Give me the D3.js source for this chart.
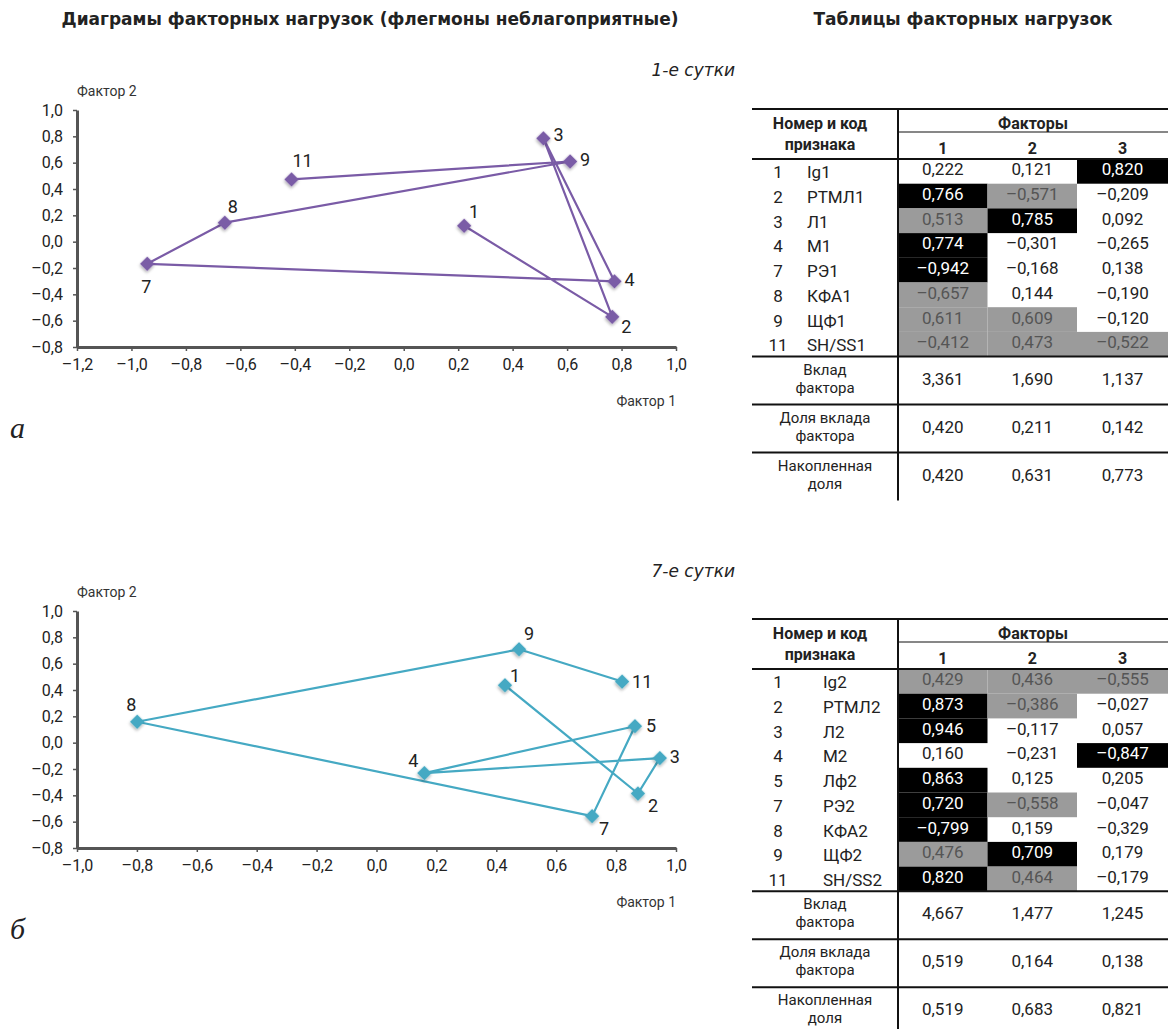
<!DOCTYPE html>
<html>
<head>
<meta charset="utf-8">
<script src="https://cdn.jsdelivr.net/npm/d3@7"></script>
<style>
  body { margin: 0; background: #fff; }
  text { font-family: Roboto, "Noto Sans", sans-serif; }
</style>
</head>
<body>
<div id="container"></div>
<script>
var width = 1168,
    height = 1029;

// ---- data: day 1 ----
var nums1 = [1, 2, 3, 4, 7, 8, 9, 11];
var codes1 = ["Ig1", "РТМЛ1", "Л1", "М1", "РЭ1", "КФА1", "ЩФ1", "SH/SS1"];
var factor1Day1 = [0.222, 0.766, 0.513, 0.774, -0.942, -0.657, 0.611, -0.412];
var factor2Day1 = [0.121, -0.571, 0.785, -0.301, -0.168, 0.144, 0.609, 0.473];
var factor3Day1 = [0.820, -0.209, 0.092, -0.265, 0.138, -0.190, -0.120, -0.522];
var contribDay1 = [3.361, 1.690, 1.137];
var shareDay1 = [0.420, 0.211, 0.142];
var cumulDay1 = [0.420, 0.631, 0.773];

// ---- data: day 7 ----
var nums7 = [1, 2, 3, 4, 5, 7, 8, 9, 11];
var codes7 = ["Ig2", "РТМЛ2", "Л2", "М2", "Лф2", "РЭ2", "КФА2", "ЩФ2", "SH/SS2"];
var factor1Day7 = [0.429, 0.873, 0.946, 0.160, 0.863, 0.720, -0.799, 0.476, 0.820];
var factor2Day7 = [0.436, -0.386, -0.117, -0.231, 0.125, -0.558, 0.159, 0.709, 0.464];
var factor3Day7 = [-0.555, -0.027, 0.057, -0.847, 0.205, -0.047, -0.329, 0.179, -0.179];
var contribDay7 = [4.667, 1.477, 1.245];
var shareDay7 = [0.519, 0.164, 0.138];
var cumulDay7 = [0.519, 0.683, 0.821];

var summaryLabels = [["Вклад", "фактора"], ["Доля вклада", "фактора"], ["Накопленная", "доля"]];
var factorHeaders = ["1", "2", "3"];

// label offsets (dx, dy) around each marker -- layout only
var labelOffsets1 = [[10, -14], [14, 10], [10, -3], [10, -1], [-1, 23], [8, -16], [10, -1], [11, -18]];
var labelOffsets7 = [[10, -9], [15, 13], [10, -1], [-11, -12], [11, 0], [12, 13], [-6, -17], [10, -15], [10, 0]];

var loc = d3.formatLocale({decimal: ",", thousands: " ", grouping: [3], currency: ["", ""], minus: "–"});
var fmt1 = loc.format(".1f"),
    fmt3 = loc.format(".3f");

var svg = d3.select("#container")
    .append("svg")
    .attr("width", width)
    .attr("height", height);

svg.append("rect").attr("width", width).attr("height", height).attr("fill", "#fff");

var defs = svg.append("defs");
defs.append("filter")
    .attr("id", "shadow")
    .attr("x", "-50%").attr("y", "-50%").attr("width", "200%").attr("height", "200%")
    .append("feDropShadow")
    .attr("dx", 1).attr("dy", 1.5)
    .attr("stdDeviation", 1.5)
    .attr("flood-color", "#000")
    .attr("flood-opacity", 0.35);

// titles
svg.append("text")
    .attr("x", 370).attr("y", 25)
    .attr("text-anchor", "middle")
    .style("font-family", "'DejaVu Sans', sans-serif")
    .attr("font-size", 17).attr("font-weight", "bold").attr("fill", "#222")
    .text("Диаграмы факторных нагрузок (флегмоны неблагоприятные)");

svg.append("text")
    .attr("x", 963).attr("y", 25)
    .attr("text-anchor", "middle")
    .style("font-family", "'DejaVu Sans', sans-serif")
    .attr("font-size", 17).attr("font-weight", "bold").attr("fill", "#222")
    .text("Таблицы факторных нагрузок");

function drawChart(opts) {
    var g = svg.append("g");

    var x = d3.scaleLinear().domain(opts.xDomain).range([77, 676]);
    var y = d3.scaleLinear().domain([-0.8, 1.0]).range([opts.top + 237, opts.top]);

    var xAxis = d3.axisBottom(x)
        .ticks(Math.round((opts.xDomain[1] - opts.xDomain[0]) / 0.2))
        .tickFormat(fmt1)
        .tickSize(4)
        .tickSizeOuter(0)
        .tickPadding(8);

    var yAxis = d3.axisLeft(y)
        .ticks(9)
        .tickFormat(fmt1)
        .tickSize(4)
        .tickSizeOuter(0)
        .tickPadding(10);

    var gx = g.append("g")
        .attr("transform", "translate(0," + (opts.top + 237) + ")")
        .call(xAxis);
    var gy = g.append("g")
        .attr("transform", "translate(77,0)")
        .call(yAxis);

    [gx, gy].forEach(function (a) {
        a.select(".domain").attr("stroke", "#555").attr("stroke-width", 3);
        a.selectAll(".tick line").attr("stroke", "#555").attr("stroke-width", 1.5);
        a.selectAll(".tick text")
            .attr("fill", "#222")
            .attr("font-size", 16)
            .style("font-family", "Roboto, sans-serif");
    });

    // axis names
    g.append("text")
        .attr("x", 77).attr("y", opts.top - 14)
        .attr("font-size", 14).attr("fill", "#333")
        .text("Фактор 2");
    g.append("text")
        .attr("x", 676).attr("y", opts.top + 296)
        .attr("text-anchor", "end")
        .attr("font-size", 14).attr("fill", "#333")
        .text("Фактор 1");

    var pts = opts.nums.map(function (n, i) {
        return {n: n, fx: opts.fx[i], fy: opts.fy[i], off: opts.offsets[i]};
    });

    var line = d3.line()
        .x(function (d) { return x(d.fx); })
        .y(function (d) { return y(d.fy); });

    g.append("path")
        .datum(pts)
        .attr("d", line)
        .attr("fill", "none")
        .attr("stroke", opts.color)
        .attr("stroke-width", 2.2)
        .attr("stroke-linejoin", "round");

    g.selectAll(".marker")
        .data(pts)
        .enter().append("path")
        .attr("class", "marker")
        .attr("d", d3.symbol().type(d3.symbolSquare).size(105))
        .attr("transform", function (d) {
            return "translate(" + x(d.fx) + "," + y(d.fy) + ") rotate(45)";
        })
        .attr("fill", opts.color)
        .attr("filter", "url(#shadow)");

    g.selectAll(".plabel")
        .data(pts)
        .enter().append("text")
        .attr("class", "plabel")
        .attr("x", function (d) { return x(d.fx) + d.off[0]; })
        .attr("y", function (d) { return y(d.fy) + d.off[1] + 6; })
        .attr("text-anchor", function (d) { return d.off[0] >= 10 && Math.abs(d.off[1]) < 5 ? "start" : "middle"; })
        .attr("font-size", 18)
        .attr("fill", "#222")
        .text(function (d) { return d.n; });

    // period caption
    svg.append("text")
        .attr("x", 735).attr("y", opts.top - 34)
        .attr("text-anchor", "end")
        .style("font-family", "'DejaVu Sans', sans-serif")
        .attr("font-size", 17).attr("font-style", "italic").attr("fill", "#222")
        .text(opts.caption);

    // panel letter
    svg.append("text")
        .attr("x", 10).attr("y", opts.top + 328)
        .attr("font-size", 30).attr("font-style", "italic")
        .style("font-family", "'Liberation Serif', 'DejaVu Serif', serif")
        .attr("fill", "#222")
        .text(opts.letter);
}

function drawTable(opts) {
    var g = svg.append("g");
    var top = opts.top;
    var colX = [898, 987.5, 1077, 1168];
    var rowTop = top + 50,
        rowH = 24.7;
    var nRows = opts.nums.length;
    var rowsEnd = rowTop + nRows * rowH;
    var groupH = 48;
    var fs = 17;

    function hline(x1, x2, yy, w) {
        g.append("line")
            .attr("x1", x1).attr("x2", x2).attr("y1", yy).attr("y2", yy)
            .attr("stroke", "#111").attr("stroke-width", w);
    }

    // cells
    var cols = [opts.f1, opts.f2, opts.f3];
    cols.forEach(function (vals, c) {
        vals.forEach(function (v, r) {
            var a = Math.abs(v);
            var fill = a >= 0.7 ? "#000" : (a >= 0.38 ? "#9b9b9b" : null);
            var ty = rowTop + r * rowH;
            if (fill) {
                g.append("rect")
                    .attr("x", colX[c]).attr("y", ty)
                    .attr("width", colX[c + 1] - colX[c]).attr("height", rowH)
                    .attr("fill", fill);
            }
            g.append("text")
                .attr("x", (colX[c] + colX[c + 1]) / 2)
                .attr("y", ty + rowH / 2 + 4)
                .attr("text-anchor", "middle")
                .attr("font-size", fs)
                .attr("fill", fill === "#000" ? "#fff" : (fill ? "#555" : "#222"))
                .text(fmt3(v));
        });
    });

    opts.nums.forEach(function (n, r) {
        var ty = rowTop + r * rowH + rowH / 2 + 7;
        g.append("text")
            .attr("x", 778).attr("y", ty)
            .attr("text-anchor", "middle")
            .attr("font-size", fs).attr("fill", "#222")
            .text(n);
        g.append("text")
            .attr("x", opts.codeX).attr("y", ty)
            .attr("font-size", fs).attr("fill", "#222")
            .text(opts.codes[r]);
    });

    // header
    g.append("text").attr("x", 820).attr("y", top + 20)
        .attr("text-anchor", "middle").attr("font-size", 16).attr("font-weight", "bold").attr("fill", "#222")
        .text("Номер и код");
    g.append("text").attr("x", 820).attr("y", top + 41)
        .attr("text-anchor", "middle").attr("font-size", 16).attr("font-weight", "bold").attr("fill", "#222")
        .text("признака");
    g.append("text").attr("x", 1033).attr("y", top + 20)
        .attr("text-anchor", "middle").attr("font-size", 16).attr("font-weight", "bold").attr("fill", "#222")
        .text("Факторы");
    factorHeaders.forEach(function (h, c) {
        g.append("text")
            .attr("x", (colX[c] + colX[c + 1]) / 2).attr("y", top + 45)
            .attr("text-anchor", "middle").attr("font-size", 16).attr("font-weight", "bold").attr("fill", "#222")
            .text(h);
    });

    // summary rows
    var summary = [opts.contrib, opts.share, opts.cumul];
    summary.forEach(function (vals, s) {
        var gy = rowsEnd + s * groupH;
        g.append("text").attr("x", 825).attr("y", gy + 18)
            .attr("text-anchor", "middle").attr("font-size", 15).attr("fill", "#222")
            .text(summaryLabels[s][0]);
        g.append("text").attr("x", 825).attr("y", gy + 36)
            .attr("text-anchor", "middle").attr("font-size", 15).attr("fill", "#222")
            .text(summaryLabels[s][1]);
        vals.forEach(function (v, c) {
            g.append("text")
                .attr("x", (colX[c] + colX[c + 1]) / 2).attr("y", gy + 28)
                .attr("text-anchor", "middle").attr("font-size", fs).attr("fill", "#222")
                .text(fmt3(v));
        });
        hline(752, 1168, gy, 2);
    });

    // rules
    hline(752, 1168, top, 2);
    hline(898, 1168, top + 23, 1.2);
    hline(752, 1168, rowTop, 2);
    g.append("line")
        .attr("x1", 898).attr("x2", 898)
        .attr("y1", top).attr("y2", rowsEnd + 3 * groupH)
        .attr("stroke", "#111").attr("stroke-width", 2);
}

drawChart({
    top: 110, xDomain: [-1.2, 1.0], color: "#7a5ba6",
    nums: nums1, fx: factor1Day1, fy: factor2Day1, offsets: labelOffsets1,
    caption: "1-е сутки", letter: "а"
});
drawChart({
    top: 611, xDomain: [-1.0, 1.0], color: "#45a9c3",
    nums: nums7, fx: factor1Day7, fy: factor2Day7, offsets: labelOffsets7,
    caption: "7-е сутки", letter: "б"
});

drawTable({
    top: 109, nums: nums1, codes: codes1, codeX: 807,
    f1: factor1Day1, f2: factor2Day1, f3: factor3Day1,
    contrib: contribDay1, share: shareDay1, cumul: cumulDay1
});
drawTable({
    top: 619, nums: nums7, codes: codes7, codeX: 823,
    f1: factor1Day7, f2: factor2Day7, f3: factor3Day7,
    contrib: contribDay7, share: shareDay7, cumul: cumulDay7
});
</script>
</body>
</html>
